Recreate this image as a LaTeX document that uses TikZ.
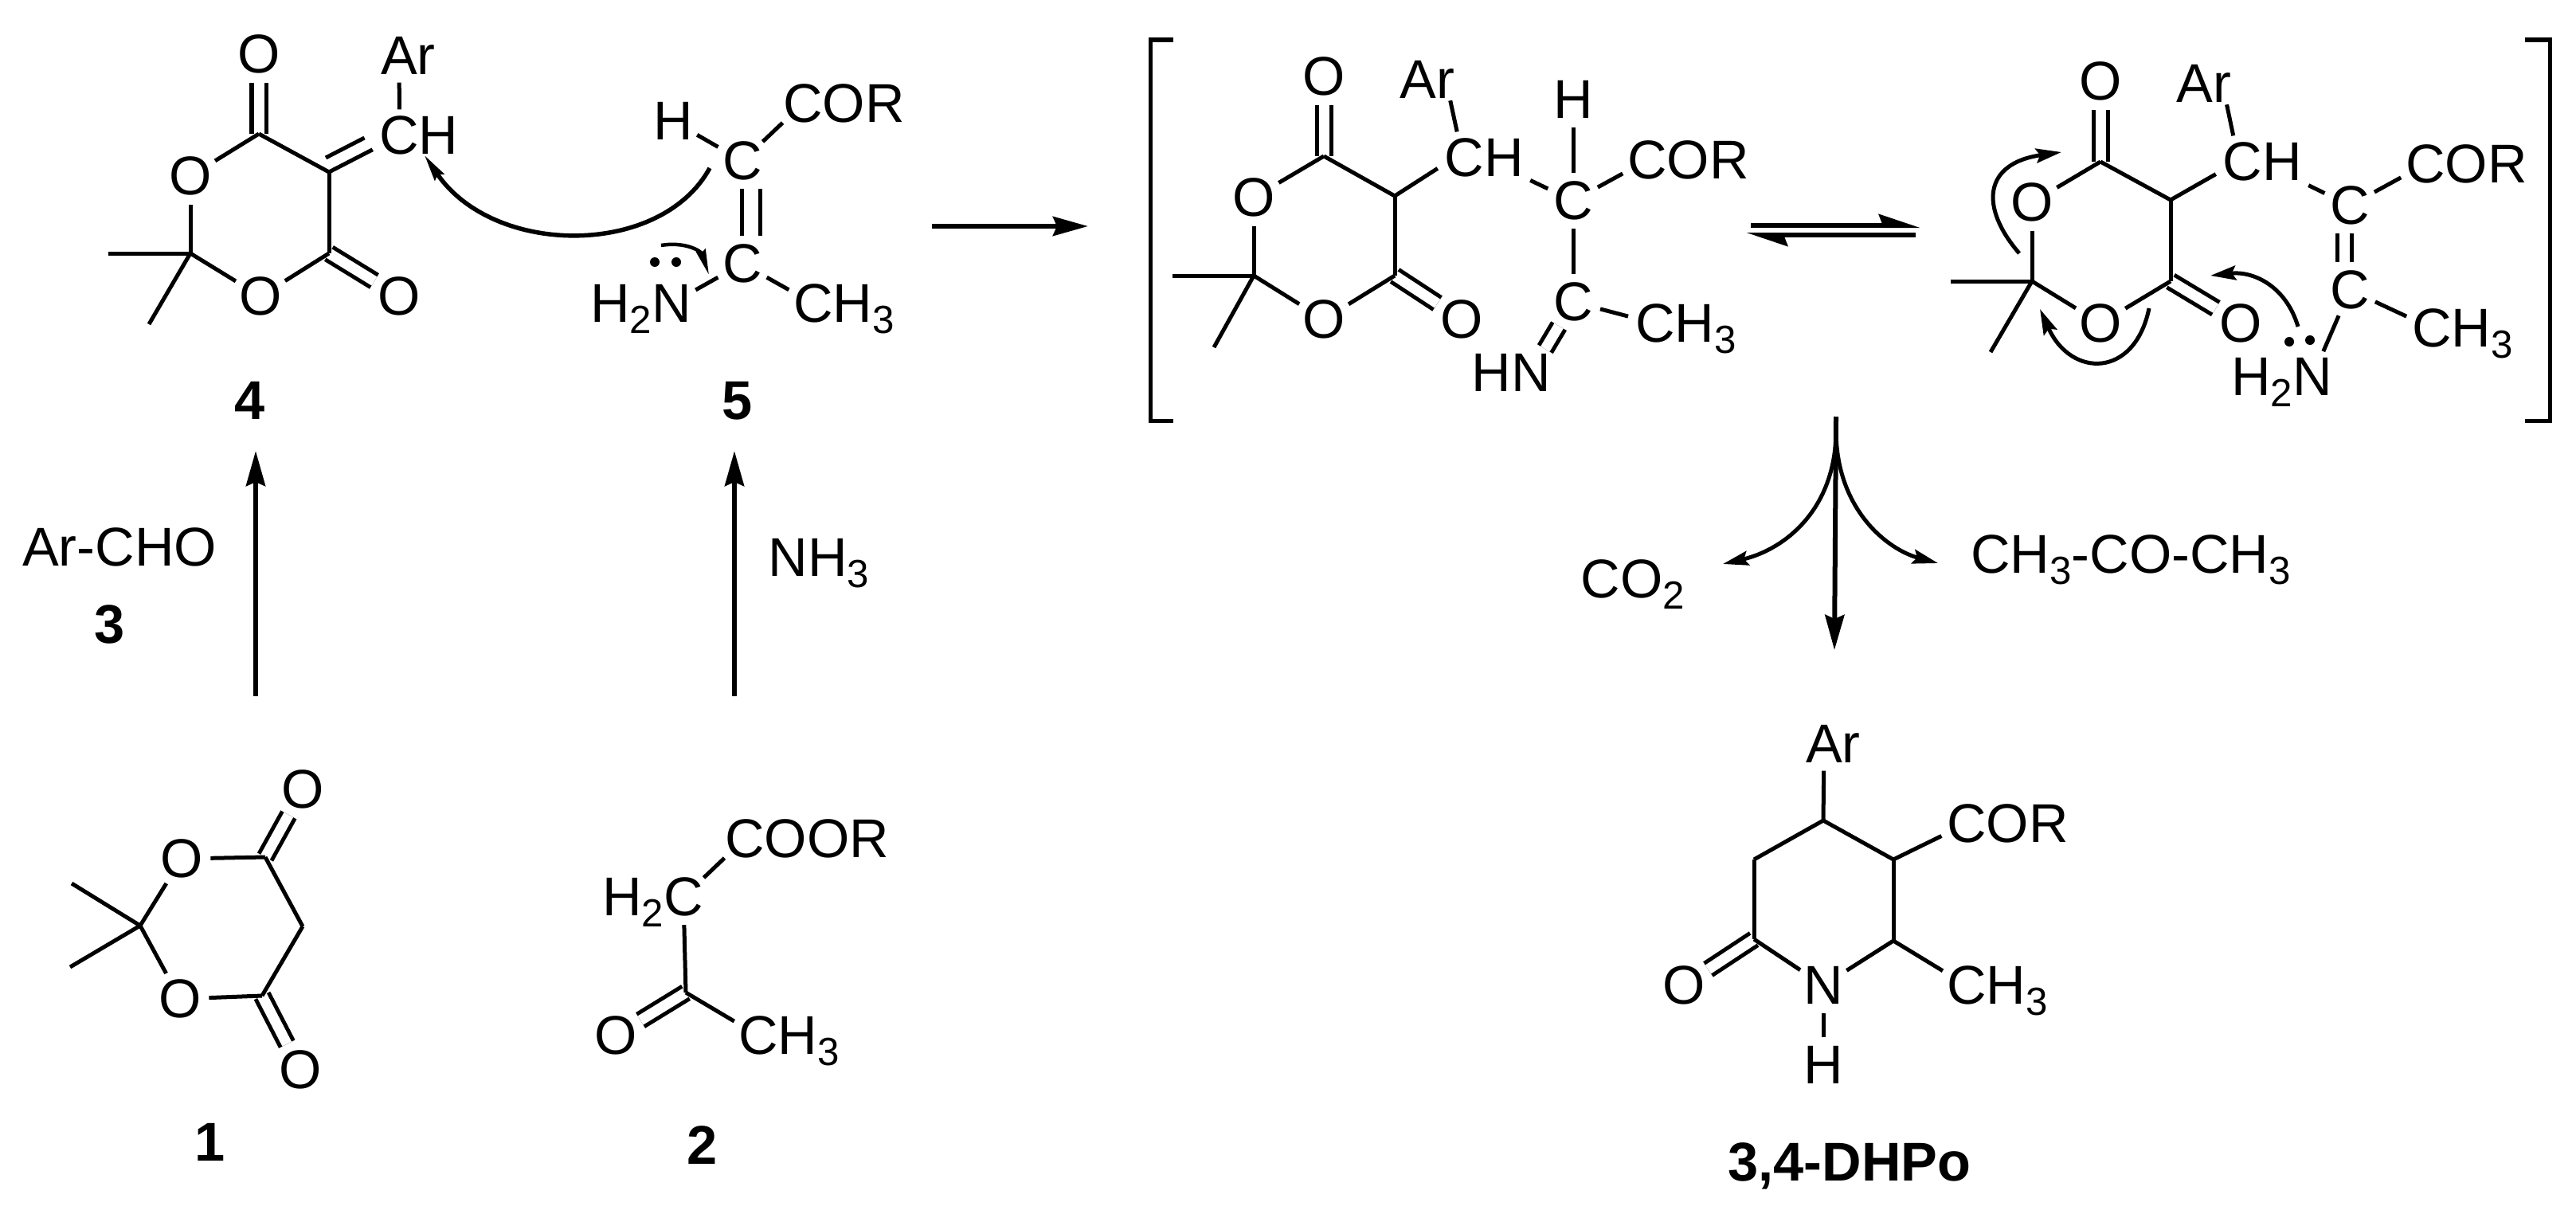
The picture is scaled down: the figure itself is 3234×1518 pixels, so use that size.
\documentclass[tikz,border=0pt]{standalone}
\usepackage{fontspec}
\setmainfont{Liberation Sans}
\usetikzlibrary{arrows.meta}
\newcommand{\chemfont}{\fontsize{19.5}{20}\selectfont}
\newcommand{\subnum}[1]{\smash{\raisebox{-0.2em}{\fontsize{14}{14}\selectfont #1}}}
\tikzset{
  atom/.style={circle,inner sep=0pt,text depth=0pt,font=\chemfont},
  grp/.style={rectangle,inner sep=0.8mm,text depth=0pt,font=\chemfont},
  lab/.style={inner sep=0pt,text depth=0pt,font=\chemfont\bfseries},
  bond/.style={line width=0.5mm},
  dbl/.style={line width=0.5mm,double,double distance=1.3mm},
  off/.style={transform canvas={shift={#1}}},
  rxn/.style={line width=0.6mm,-{Stealth[length=4.4mm,width=2.4mm,inset=0.5mm]}},
  hrp/.style={line width=0.6mm,-{Stealth[length=4.3mm,width=2.8mm,inset=0.5mm,harpoon]}},
  curly/.style={line width=0.5mm,-{Stealth[length=3.2mm,width=1.8mm,inset=0.5mm]}},
  dot/.style={circle,fill,inner sep=0pt,minimum size=1.2mm}
}
\begin{document}
\begin{tikzpicture}[x=0.01cm,y=-0.01cm]
\useasboundingbox (0,0) rectangle (3234,1518);
\foreach \n/\x/\y in {a1/325/168,a2/413/216,a3/413/318,a4/239/318,a5/136/318,a6/187/407,
  r1/333/1076,r2/176/1162,r3/380/1163,r4/329/1250,r5/90/1109,r6/88/1214,s3/861/1246,
  p1/1662/196,p2/1751/246,p3/1751/346,p4/1574/346,p5/1472/346,p6/1524/436,
  q1/2637/203,q2/2725/251,q3/2725/353,q4/2551/353,q5/2449/353,q6/2499/442,
  d1/2289/1030,d2/2377/1079,d3/2377/1181,d4/2202/1179,d5/2202/1079}
  \coordinate (\n) at (\x,\y);
\foreach \n/\x/\y/\txt in {aO1/325/68/O,aO2/239/221/O,aO3/327/372/O,aO4/501/372/O,aAr/501/70/A\rlap{r},
  bH/845/152/H,bC1/932/202/C,bCOR/1008/130/C\rlap{OR},bC2/932/331/C,bN/843/381/\llap{H\subnum{2}}N,bCH3/1021/381/C\rlap{H\subnum{3}},
  rO1/380/991/O,rO2/228/1078/O,rO3/226/1254/O,rO4/377/1343/O,
  sC1/935/1053/C\rlap{OOR},sC2/858/1126/\llap{H\subnum{2}}C,sCH3/952/1300/C\rlap{H\subnum{3}},sO/773/1300/O,
  pO1/1662/96/O,pO2/1574/248/O,pO3/1662/401/O,pO4/1835/401/O,pAr/1815/100/\llap{A}r,
  pH/1975/125/H,pC1/1975/252/C,pCOR/2068/201/C\rlap{OR},pC2/1975/379/C,pCH3/2078/406/C\rlap{H\subnum{3}},pN/1922/468/\llap{H}N,
  qO1/2637/102/O,qO2/2551/254/O,qO3/2637/406/O,qO4/2813/406/O,qAr/2790/105/\llap{A}r,
  qC1/2950/258/C,qCOR/3045/206/C\rlap{OR},qC2/2950/364/C,qCH3/3053/412/C\rlap{H\subnum{3}},qN/2903/473/\llap{H\subnum{2}}N,
  dAr/2290/934/A\rlap{r},dCOR/2469/1034/C\rlap{OR},dCH3/2469/1237/C\rlap{H\subnum{3}},dN/2289/1237/N,dH/2289/1337/H,dO/2114/1237/O}
  \node[atom] (\n) at (\x,\y) {\txt};
\node[grp] (aCH) at (526,170) {CH};
\node[grp] (pCH) at (1863,198) {CH};
\node[grp] (qCH) at (2840,203) {CH};
\node[grp] (archo) at (150,687) {Ar-CHO};
\node[grp] (nh3) at (1028,700) {NH\subnum{3}};
\node[grp] (co2) at (2050,727) {CO\subnum{2}};
\node[grp] (acetone) at (2675,696) {CH\subnum{3}-CO-CH\subnum{3}};
\node[lab] (l1) at (264,1434) {1};
\node[lab] (l2) at (882,1438) {2};
\node[lab] (l3) at (138,784) {3};
\node[lab] (l4) at (314,503) {4};
\node[lab] (l5) at (926,503) {5};
\node[lab] (ldhpo) at (2322,1459) {3,4-DHPo};
\foreach \a/\b in {a1/aO1,a3/aO4,r1/rO1,r4/rO4,s3/sO,p1/pO1,p3/pO4,q1/qO1,q3/qO4,d4/dO}
  \draw[dbl] (\a) -- (\b);
\draw[bond] (a2) -- (aCH.197);
\draw[bond,off={(-4,-18)},shorten >=2] (a2) -- (aCH.197);
\draw[dbl,off={(11,0)},double distance=1.8mm] (bC1) -- (bC2);
\draw[dbl,off={(-7,0)}] (qC1) -- (qC2);
\draw[dbl] (pN) -- (pC2);
\foreach \a/\b in {a1/aO2,a1/a2,a2/a3,a3/aO3,aO3/a4,a4/aO2,a4/a5,a4/a6,
  bH/bC1,bC1/bCOR,bC2/bN,bC2/bCH3,
  rO2/r1,r1/r3,r3/r4,r4/rO3,rO3/r2,r2/rO2,r2/r5,r2/r6,
  sC2/sC1,sC2/s3,s3/sCH3,
  p1/pO2,p1/p2,p2/p3,p3/pO3,pO3/p4,p4/pO2,p4/p5,p4/p6,pH/pC1,pC1/pCOR,pC1/pC2,pC2/pCH3,
  q1/qO2,q1/q2,q2/q3,q3/qO3,qO3/q4,q4/qO2,q4/q5,q4/q6,qC1/qCOR,qC2/qCH3,qC2/qN,
  d1/d2,d2/d3,d3/dN,dN/d4,d4/d5,d5/d1,d1/dAr,d2/dCOR,d3/dCH3,dN/dH}
  \draw[bond] (\a) -- (\b);
\draw[bond] (aAr) -- (aCH.127);
\draw[bond] (p2) -- (pCH.193);
\draw[bond] (pAr) -- (pCH.136);
\draw[bond] (pCH.334) -- (pC1);
\draw[bond] (q2) -- (qCH.195);
\draw[bond] (qAr) -- (qCH.138);
\draw[bond] (qCH.333) -- (qC1);
\foreach \n/\x/\y in {dd1/822/329,dd2/849/329,dd3/2874/429,dd4/2900/427}
  \node[dot] (\n) at (\x,\y) {};
\coordinate (m1) at (891,211);
\coordinate (m2) at (533,195);
\draw[line width=0.55mm,-{Stealth[length=3.3mm,width=1.4mm,inset=0.4mm]}] (m1) .. controls (830,323) and (620,323) .. (m2);
\coordinate (n1) at (830,308);
\coordinate (n2) at (890,345);
\draw[line width=0.45mm,-{Stealth[length=3.2mm,width=1.2mm,inset=0.3mm]}] (n1) .. controls (860,303) and (880,315) .. (n2);
\coordinate (ua1) at (2535,318);
\coordinate (ua2) at (2588,191);
\draw[curly] (ua1) .. controls (2485,260) and (2490,205) .. (ua2);
\coordinate (ub1) at (2698,387);
\coordinate (ub2) at (2561,388);
\draw[curly] (ub1) .. controls (2680,475) and (2600,475) .. (ub2);
\coordinate (uc1) at (2885,410);
\coordinate (uc2) at (2775,346);
\draw[curly] (uc1) .. controls (2870,360) and (2830,340) .. (uc2);
\coordinate (v1) at (321,874);
\coordinate (v2) at (321,566);
\draw[rxn] (v1) -- (v2);
\coordinate (v3) at (922,874);
\coordinate (v4) at (922,566);
\draw[rxn] (v3) -- (v4);
\coordinate (h1) at (1170,284);
\coordinate (h2) at (1366,284);
\draw[rxn] (h1) -- (h2);
\coordinate (e1) at (2198,283);
\coordinate (e2) at (2411,283);
\coordinate (e3) at (2405,295);
\coordinate (e4) at (2192,295);
\draw[hrp] (e1) -- (e2);
\draw[hrp] (e3) -- (e4);
\draw[bond] (1473,50) -- (1444,50) -- (1444,528) -- (1473,528);
\draw[bond] (3170,50) -- (3201,50) -- (3201,528) -- (3170,528);
\coordinate (t1) at (2305,523);
\coordinate (t2) at (2303,816);
\coordinate (t3) at (2305,540);
\coordinate (t4) at (2163,708);
\coordinate (t5) at (2433,707);
\draw[rxn] (t1) -- (t2);
\draw[curly] (t3) .. controls (2305,640) and (2240,690) .. (t4);
\draw[curly] (t3) .. controls (2305,640) and (2370,690) .. (t5);
\end{tikzpicture}
\end{document}
